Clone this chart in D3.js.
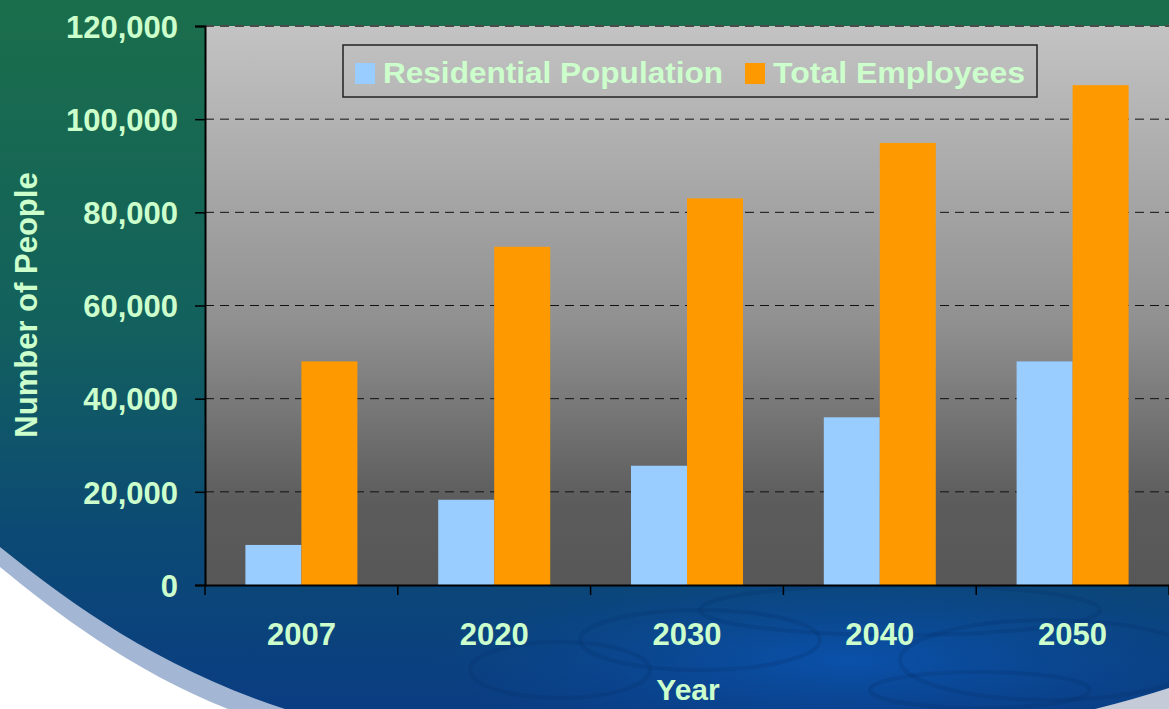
<!DOCTYPE html>
<html>
<head>
<meta charset="utf-8">
<script src="https://cdn.jsdelivr.net/npm/d3@7"></script>
<style>
  body { margin: 0; overflow: hidden; }
  text { font-family: "Liberation Sans", Arial, sans-serif; font-weight: bold; fill: #ccffcc; }
</style>
</head>
<body>
<div id="chart"></div>
<script>
// data
var years = ["2007", "2020", "2030", "2040", "2050"];
var seriesNames = ["Residential Population", "Total Employees"];
var residential = [8600, 18300, 25600, 36000, 48000];
var employees = [48000, 72600, 83000, 94900, 107300];
var yTicks = [0, 20000, 40000, 60000, 80000, 100000, 120000];
var colors = ["#99ccff", "#ff9900"];

function init(){
	var w = 1169, h = 709;
	var left = 205, top = 26, plotW = 964, plotH = 559;

	var svg = d3.select("#chart").append("svg")
		.attr("width", w)
		.attr("height", h);

	var defs = svg.append("defs");
	var bg = defs.append("linearGradient").attr("id", "bg")
		.attr("gradientUnits", "userSpaceOnUse")
		.attr("x1", 0).attr("y1", 0).attr("x2", 0).attr("y2", h);
	bg.append("stop").attr("offset", 0).attr("stop-color", "#1b6e4b");
	bg.append("stop").attr("offset", 0.45).attr("stop-color", "#13615d");
	bg.append("stop").attr("offset", 0.75).attr("stop-color", "#0c4a74");
	bg.append("stop").attr("offset", 1).attr("stop-color", "#0a3d82");

	var pg = defs.append("linearGradient").attr("id", "plotbg")
		.attr("x1", 0).attr("y1", 0).attr("x2", 0).attr("y2", 1);
	pg.append("stop").attr("offset", 0).attr("stop-color", "#c3c3c3");
	pg.append("stop").attr("offset", 0.54).attr("stop-color", "#8f8f8f");
	pg.append("stop").attr("offset", 0.85).attr("stop-color", "#5c5c5c");
	pg.append("stop").attr("offset", 1).attr("stop-color", "#575757");

	var water = defs.append("radialGradient").attr("id", "water")
		.attr("cx", 0.5).attr("cy", 0.5).attr("r", 0.5);
	water.append("stop").attr("offset", 0).attr("stop-color", "#0a55b5").attr("stop-opacity", 0.8);
	water.append("stop").attr("offset", 1).attr("stop-color", "#0a4aa0").attr("stop-opacity", 0);

	// background gradient
	svg.append("rect").attr("width", w).attr("height", h).attr("fill", "url(#bg)");
	svg.append("ellipse").attr("cx", 850).attr("cy", 660).attr("rx", 420).attr("ry", 90).attr("fill", "url(#water)");

	// water swirls
	var swirls = [[700, 640, 120, 30], [900, 610, 200, 25], [1050, 660, 150, 40], [560, 670, 90, 28], [980, 690, 110, 18]];
	svg.selectAll("ellipse.sw").data(swirls).enter().append("ellipse")
		.attr("class", "sw")
		.attr("cx", function(d){ return d[0]; })
		.attr("cy", function(d){ return d[1]; })
		.attr("rx", function(d){ return d[2]; })
		.attr("ry", function(d){ return d[3]; })
		.attr("fill", "none")
		.attr("stroke", "#062d66")
		.attr("stroke-opacity", 0.2)
		.attr("stroke-width", 4);

	// white swoosh bottom left with light band
	svg.append("path")
		.attr("d", "M0,547 C60,595 150,665 285,709 L0,709 Z")
		.attr("fill", "#a3b6d3");
	svg.append("path")
		.attr("d", "M0,567 C55,612 130,670 228,709 L0,709 Z")
		.attr("fill", "#ffffff");
	// light corner bottom right
	svg.append("path")
		.attr("d", "M1095,709 Q1135,699 1169,688 L1169,709 Z")
		.attr("fill", "#c4cad8");

	var x = d3.scaleBand().domain(years).range([left, left + plotW]);
	var xs = d3.scaleBand().domain(seriesNames).range([0, 112]);
	var y = d3.scaleLinear().domain([0, 120000]).range([top + plotH, top]);

	svg.append("rect")
		.attr("x", left).attr("y", top)
		.attr("width", plotW).attr("height", plotH)
		.attr("fill", "url(#plotbg)");

	// grid lines
	svg.selectAll("line.grid").data(yTicks.slice(1)).enter().append("line")
		.attr("class", "grid")
		.attr("x1", left).attr("x2", left + plotW)
		.attr("y1", function(d){ return y(d); })
		.attr("y2", function(d){ return y(d); })
		.attr("stroke", function(d){ return d == 120000 ? "#4a4a4a" : "#111"; })
		.attr("stroke-width", function(d){ return d == 120000 ? 2 : 1; })
		.attr("stroke-dasharray", "9,6");

	// bars
	var groups = svg.selectAll("g.yr").data(years).enter().append("g")
		.attr("class", "yr")
		.attr("transform", function(d){ return "translate(" + (x(d) + x.bandwidth()/2 - 56) + ",0)"; });

	groups.append("rect")
		.attr("x", xs(seriesNames[0]))
		.attr("width", xs.bandwidth())
		.attr("y", function(d, i){ return y(residential[i]); })
		.attr("height", function(d, i){ return y(0) - y(residential[i]); })
		.attr("fill", colors[0]);
	groups.append("rect")
		.attr("x", xs(seriesNames[1]))
		.attr("width", xs.bandwidth())
		.attr("y", function(d, i){ return y(employees[i]); })
		.attr("height", function(d, i){ return y(0) - y(employees[i]); })
		.attr("fill", colors[1]);

	// axes
	var yAxis = svg.append("g")
		.attr("transform", "translate(" + left + ",0)")
		.call(d3.axisLeft(y).tickValues(yTicks).tickFormat(d3.format(",")).tickSize(10).tickPadding(17));
	var xAxis = svg.append("g")
		.attr("transform", "translate(0," + (top + plotH) + ")")
		.call(d3.axisBottom(x).tickSize(0).tickPadding(38));
	[yAxis, xAxis].forEach(function(a){
		a.select(".domain").attr("stroke", "#000").attr("stroke-width", 2);
		a.selectAll(".tick line").attr("stroke", "#000").attr("stroke-width", 1.5);
		a.selectAll("text").attr("fill", "#ccffcc").style("font-size", "31px")
			.style("font-family", "'Liberation Sans', Arial, sans-serif").style("font-weight", "bold");
	});
	yAxis.selectAll("text").attr("dy", "0.36em");
	// category boundary ticks
	xAxis.selectAll("line.bt").data(years.concat(["end"])).enter().append("line")
		.attr("class", "bt")
		.attr("x1", function(d, i){ return left + i * x.bandwidth(); })
		.attr("x2", function(d, i){ return left + i * x.bandwidth(); })
		.attr("y1", 0).attr("y2", 10)
		.attr("stroke", "#000").attr("stroke-width", 1.5);

	// axis titles
	svg.append("text")
		.attr("transform", "translate(37,305) rotate(-90)")
		.attr("text-anchor", "middle")
		.style("font-size", "31px")
		.text("Number of People");
	svg.append("text")
		.attr("x", 688).attr("y", 700)
		.attr("text-anchor", "middle")
		.style("font-size", "30px")
		.text("Year");

	// legend
	var lg = svg.append("g");
	lg.append("rect")
		.attr("x", 343).attr("y", 45).attr("width", 694).attr("height", 52)
		.attr("fill", "none").attr("stroke", "#222").attr("stroke-width", 1.5);
	var lx = [355, 745];
	var tw = [340, 252];
	seriesNames.forEach(function(s, i){
		lg.append("rect").attr("x", lx[i]).attr("y", 63).attr("width", 20).attr("height", 21).attr("fill", colors[i]);
		lg.append("text").attr("x", lx[i] + 28).attr("y", 83)
			.style("font-size", "29px")
			.attr("textLength", tw[i])
			.attr("lengthAdjust", "spacingAndGlyphs")
			.text(s);
	});
}

window.onload = init;
</script>
</body>
</html>
